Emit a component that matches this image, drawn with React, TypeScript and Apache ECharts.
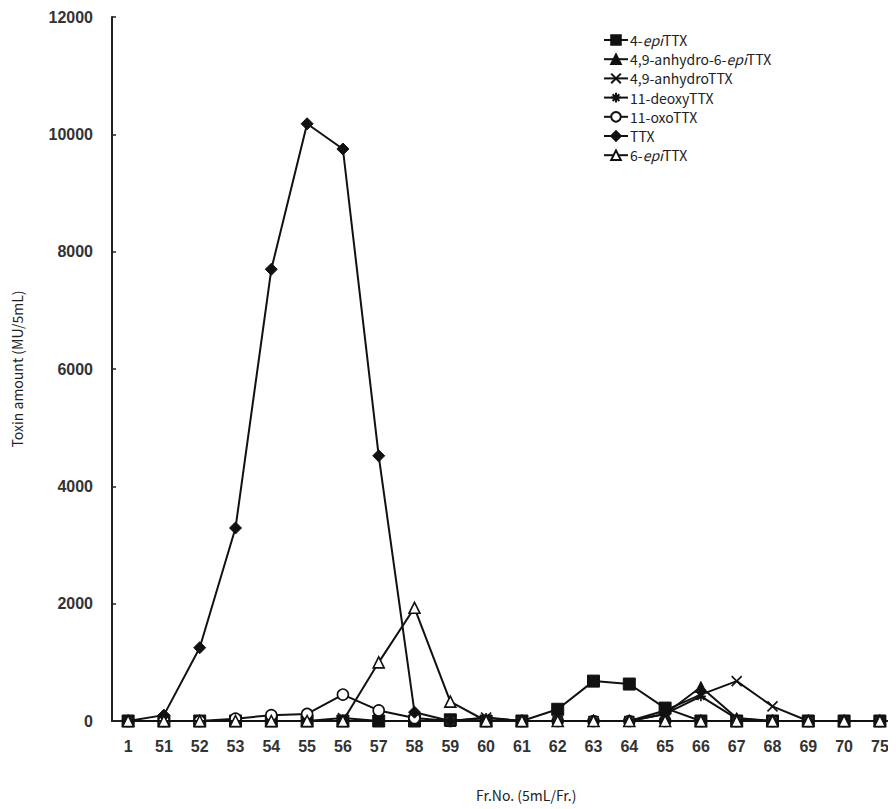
import React, { useEffect, useRef } from "react";
import * as echarts from "echarts";

const categories = ["1", "51", "52", "53", "54", "55", "56", "57", "58", "59", "60", "61", "62", "63", "64", "65", "66", "67", "68", "69", "70", "75"];
const yTicks = [0, 2000, 4000, 6000, 8000, 10000, 12000];

const epi4TTX = [0, 0, 0, 0, 0, 0, 0, 0, 0, 20, 0, 0, 200, 680, 630, 220, 0, 0, 0, 0, 0, 0];
const anhydro6epiTTX = [0, 0, 0, 0, 0, 0, 0, 0, 0, 0, 0, 0, 0, 0, 0, 120, 580, 50, 0, 0, 0, 0];
const anhydroTTX = [0, 0, 0, 0, 0, 0, 50, 0, 0, 0, 60, 0, 0, 0, 0, 180, 450, 680, 250, 0, 0, 0];
const deoxyTTX = [0, 0, 0, 0, 0, 0, 0, 0, 0, 0, 50, 0, 0, 0, 0, 120, 420, 40, 0, 0, 0, 0];
const oxoTTX = [0, 0, 0, 40, 100, 120, 450, 180, 50, 0, 0, 0, 0, 0, 0, 0, 0, 0, 0, 0, 0, 0];
const TTX = [0, 100, 1250, 3290, 7700, 10180, 9750, 4520, 150, 0, 0, 0, 0, 0, 0, 0, 0, 0, 0, 0, 0, 0];
const epi6TTX = [0, 0, 0, 0, 0, 0, 0, 1000, 1930, 330, 0, 0, 0, 0, 0, 0, 0, 0, 0, 0, 0, 0];

const seriesNames = ["4-epiTTX", "4,9-anhydro-6-epiTTX", "4,9-anhydroTTX", "11-deoxyTTX", "11-oxoTTX", "TTX", "6-epiTTX"];
const seriesValues = [epi4TTX, anhydro6epiTTX, anhydroTTX, deoxyTTX, oxoTTX, TTX, epi6TTX];

const CROSS = "path://M0,0L10,10M10,0L0,10";
const STAR = "path://M5,0L5,10M0,5L10,5M1.5,1.5L8.5,8.5M8.5,1.5L1.5,8.5";

const markerStyles: any[] = [
  { symbol: "rect", symbolSize: 12, itemStyle: { color: "#111", borderColor: "#111", borderWidth: 1 } },
  { symbol: "triangle", symbolSize: 11, itemStyle: { color: "#111", borderColor: "#111", borderWidth: 1 } },
  { symbol: CROSS, symbolSize: 10, itemStyle: { color: "#fff", borderColor: "#111", borderWidth: 1.6 } },
  { symbol: STAR, symbolSize: 10, itemStyle: { color: "#fff", borderColor: "#111", borderWidth: 1.6 } },
  { symbol: "circle", symbolSize: 11, itemStyle: { color: "#fff", borderColor: "#111", borderWidth: 1.6 } },
  { symbol: "diamond", symbolSize: 12, itemStyle: { color: "#111", borderColor: "#111", borderWidth: 1 } },
  { symbol: "triangle", symbolSize: 11, itemStyle: { color: "#fff", borderColor: "#111", borderWidth: 1.6 } },
];

const TEXT_FONT = "'Noto Sans CJK JP', 'Liberation Sans', sans-serif";
const TICK_FONT = "'Liberation Sans', Arial, sans-serif";

export default function App() {
  const ref = useRef<HTMLDivElement>(null);

  useEffect(() => {
    if (!ref.current) return;
    const chart = echarts.init(ref.current, null, { renderer: "svg" });

    const series = seriesNames.map((name, si) => ({
      name,
      type: "line",
      data: seriesValues[si].map((v, i) => [i, v]),
      lineStyle: { color: "#111", width: 2 },
      showAllSymbol: true,
      z: 2 + si,
      ...markerStyles[si],
    }));

    chart.setOption({
      animation: false,
      backgroundColor: "#fff",
      grid: { left: 112, right: 0, top: 17, bottom: 88, containLabel: false },
      legend: {
        orient: "vertical",
        left: 598,
        top: 27,
        itemWidth: 24,
        itemHeight: 12,
        itemGap: 3.2,
        data: seriesNames,
        formatter: (name: string) => name.replace("epi", "{i|epi}"),
        textStyle: {
          fontFamily: TEXT_FONT,
          fontSize: 14,
          lineHeight: 16,
          color: "#222",
          padding: [0, 0, 0, -3],
          rich: { i: { fontStyle: "italic", fontFamily: TEXT_FONT, fontSize: 14, lineHeight: 16, color: "#222" } },
        },
      },
      xAxis: {
        type: "value",
        min: -0.45,
        max: 21.45,
        splitLine: { show: false },
        axisLine: { onZero: false, lineStyle: { color: "#222", width: 2 } },
        axisTick: { show: false },
        axisLabel: {
          customValues: categories.map((_, i) => i),
          formatter: (v: number) => categories[Math.round(v)] ?? "",
          margin: 17,
          fontFamily: TICK_FONT,
          fontSize: 16,
          fontWeight: "bold",
          color: "#333",
        },
      },
      yAxis: {
        type: "value",
        min: 0,
        max: 12000,
        interval: 2000,
        splitLine: { show: false },
        axisLine: { show: true, onZero: false, lineStyle: { color: "#222", width: 2 } },
        axisTick: { show: true, inside: true, length: 4, lineStyle: { color: "#222", width: 1.5 } },
        axisLabel: {
          formatter: (v: number) => (yTicks.includes(v) ? String(v) : ""),
          margin: 19,
          fontFamily: TICK_FONT,
          fontSize: 16,
          fontWeight: "bold",
          color: "#333",
        },
        name: "Toxin amount (MU/5mL)",
        nameLocation: "middle",
        nameGap: 88,
        nameTextStyle: { fontFamily: TEXT_FONT, fontSize: 14, color: "#222" },
      },
      graphic: [
        {
          type: "text",
          left: 476,
          top: 788,
          style: { text: "Fr.No. (5mL/Fr.)", fontFamily: TEXT_FONT, fontSize: 14, fill: "#222" },
        },
      ],
      series,
    });

    return () => chart.dispose();
  }, []);

  return <div ref={ref} style={{ width: 896, height: 809, margin: "-8px 0 0 -8px" }} />;
}
